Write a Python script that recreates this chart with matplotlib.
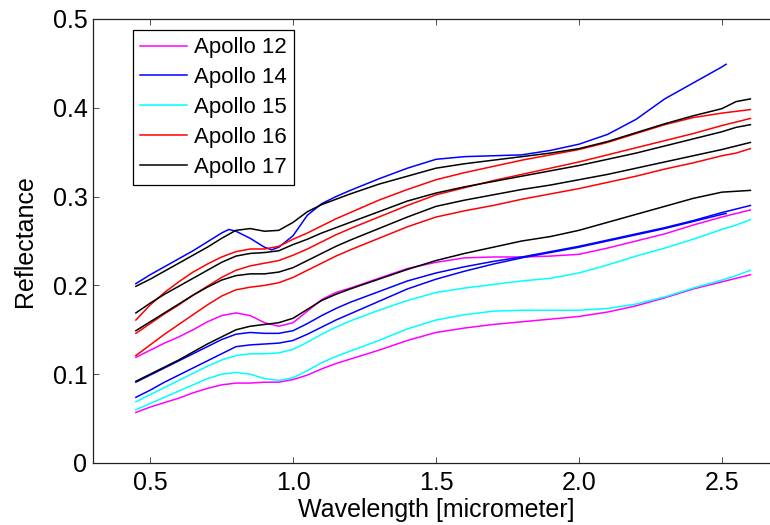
import matplotlib
matplotlib.use("Agg")
import matplotlib.pyplot as plt
from matplotlib.ticker import FixedLocator, FuncFormatter

plt.rcParams['font.family'] = ['Liberation Sans', 'DejaVu Sans']

# wavelength grid (micrometer)
WL = [0.45, 0.50, 0.55, 0.60, 0.65, 0.70, 0.75, 0.80, 0.85, 0.90, 0.95, 1.00,
      1.05, 1.10, 1.15, 1.20, 1.30, 1.40, 1.50, 1.60, 1.70, 1.80, 1.90, 2.00,
      2.10, 2.20, 2.30, 2.40, 2.50, 2.55, 2.60]
WL_SHORT = [0.45, 0.50, 0.55, 0.60, 0.65, 0.70, 0.75, 0.80, 0.85, 0.90, 0.95, 1.00,
            1.05, 1.10, 1.15, 1.20, 1.30, 1.40, 1.50, 1.60, 1.70, 1.80, 1.90, 2.00,
            2.10, 2.20, 2.30, 2.40, 2.50, 2.515]
WL_PEAK = [0.45, 0.50, 0.55, 0.60, 0.65, 0.70, 0.75, 0.775, 0.80, 0.85, 0.90, 0.925, 0.95, 1.00,
           1.05, 1.10, 1.15, 1.20, 1.30, 1.40, 1.50, 1.60, 1.70, 1.80, 1.90, 2.00,
           2.10, 2.20, 2.30, 2.40, 2.50, 2.515]

# Apollo 12 (magenta)
a12_1 = [0.119, 0.127, 0.135, 0.142, 0.150, 0.159, 0.166, 0.169, 0.166, 0.158, 0.154, 0.158,
         0.171, 0.184, 0.192, 0.197, 0.208, 0.219, 0.226, 0.231, 0.232, 0.232, 0.233, 0.235,
         0.242, 0.250, 0.258, 0.268, 0.277, 0.281, 0.285]
a12_2 = [0.057, 0.063, 0.068, 0.073, 0.079, 0.084, 0.088, 0.090, 0.090, 0.091, 0.091, 0.094,
         0.099, 0.106, 0.112, 0.117, 0.127, 0.138, 0.147, 0.152, 0.156, 0.159, 0.162, 0.165,
         0.170, 0.177, 0.186, 0.196, 0.204, 0.208, 0.212]

# Apollo 14 (blue)
a14_1 = [0.202, 0.212, 0.221, 0.230, 0.239, 0.249, 0.259, 0.263, 0.261, 0.253, 0.243, 0.240, 0.243, 0.256,
         0.279, 0.292, 0.300, 0.307, 0.320, 0.332, 0.342, 0.345, 0.346, 0.347, 0.352, 0.359,
         0.370, 0.387, 0.410, 0.428, 0.446, 0.449]
a14_2 = [0.091, 0.099, 0.107, 0.115, 0.123, 0.131, 0.139, 0.145, 0.147, 0.146, 0.146, 0.149,
         0.157, 0.166, 0.174, 0.181, 0.193, 0.205, 0.214, 0.221, 0.227, 0.232, 0.238, 0.244,
         0.251, 0.258, 0.265, 0.273, 0.282, 0.286, 0.290]
a14_3 = [0.074, 0.082, 0.091, 0.099, 0.107, 0.115, 0.123, 0.131, 0.133, 0.134, 0.135, 0.138,
         0.145, 0.153, 0.161, 0.168, 0.182, 0.196, 0.207, 0.216, 0.224, 0.231, 0.237, 0.243,
         0.250, 0.257, 0.264, 0.272, 0.280, 0.281]

# Apollo 15 (cyan)
a15_1 = [0.069, 0.077, 0.085, 0.093, 0.101, 0.109, 0.116, 0.121, 0.123, 0.123, 0.124, 0.128,
         0.136, 0.145, 0.153, 0.160, 0.172, 0.183, 0.192, 0.197, 0.201, 0.205, 0.208, 0.214,
         0.223, 0.233, 0.242, 0.252, 0.263, 0.268, 0.274]
a15_2 = [0.060, 0.067, 0.074, 0.081, 0.088, 0.095, 0.100, 0.102, 0.100, 0.095, 0.093, 0.096,
         0.104, 0.113, 0.120, 0.126, 0.138, 0.151, 0.161, 0.167, 0.171, 0.172, 0.172, 0.172,
         0.174, 0.179, 0.187, 0.197, 0.206, 0.211, 0.217]

# Apollo 16 (red)
a16_1 = [0.161, 0.178, 0.192, 0.204, 0.215, 0.224, 0.232, 0.238, 0.241, 0.241, 0.244, 0.252,
         0.259, 0.267, 0.275, 0.282, 0.296, 0.308, 0.319, 0.327, 0.334, 0.341, 0.347, 0.353,
         0.361, 0.371, 0.381, 0.389, 0.394, 0.396, 0.398]
a16_2 = [0.146, 0.157, 0.168, 0.178, 0.189, 0.199, 0.209, 0.217, 0.222, 0.225, 0.228, 0.234,
         0.241, 0.249, 0.257, 0.264, 0.277, 0.290, 0.302, 0.310, 0.318, 0.325, 0.332, 0.339,
         0.347, 0.355, 0.363, 0.371, 0.380, 0.384, 0.388]
a16_3 = [0.121, 0.133, 0.145, 0.156, 0.167, 0.178, 0.188, 0.195, 0.198, 0.200, 0.203, 0.209,
         0.217, 0.225, 0.233, 0.240, 0.253, 0.266, 0.277, 0.284, 0.290, 0.297, 0.303, 0.309,
         0.316, 0.323, 0.331, 0.338, 0.346, 0.349, 0.354]

# Apollo 17 (black)
a17_1 = [0.199, 0.207, 0.216, 0.225, 0.234, 0.243, 0.253, 0.262, 0.264, 0.261, 0.262, 0.271,
         0.283, 0.291, 0.297, 0.303, 0.314, 0.323, 0.332, 0.337, 0.341, 0.345, 0.349, 0.354,
         0.362, 0.372, 0.382, 0.391, 0.399, 0.407, 0.410]
a17_2 = [0.169, 0.180, 0.190, 0.199, 0.208, 0.217, 0.226, 0.233, 0.236, 0.237, 0.239, 0.246,
         0.252, 0.259, 0.265, 0.271, 0.283, 0.295, 0.304, 0.311, 0.317, 0.323, 0.329, 0.335,
         0.342, 0.349, 0.357, 0.365, 0.373, 0.378, 0.381]
a17_3 = [0.149, 0.159, 0.169, 0.179, 0.189, 0.198, 0.206, 0.211, 0.213, 0.213, 0.215, 0.220,
         0.228, 0.236, 0.244, 0.251, 0.264, 0.277, 0.289, 0.296, 0.302, 0.308, 0.313, 0.319,
         0.325, 0.332, 0.339, 0.346, 0.353, 0.357, 0.361]
a17_4 = [0.092, 0.100, 0.108, 0.116, 0.125, 0.134, 0.142, 0.150, 0.154, 0.156, 0.158, 0.163,
         0.173, 0.183, 0.190, 0.196, 0.207, 0.218, 0.228, 0.236, 0.243, 0.250, 0.255, 0.262,
         0.271, 0.280, 0.289, 0.298, 0.305, 0.306, 0.307]

series = [
    ("Apollo 12", "#ff00ff", [(WL, a12_1), (WL, a12_2)]),
    ("Apollo 14", "#0000ff", [(WL_PEAK, a14_1), (WL, a14_2), (WL_SHORT, a14_3)]),
    ("Apollo 15", "#00ffff", [(WL, a15_1), (WL, a15_2)]),
    ("Apollo 16", "#ff0000", [(WL, a16_1), (WL, a16_2), (WL, a16_3)]),
    ("Apollo 17", "#000000", [(WL, a17_1), (WL, a17_2), (WL, a17_3), (WL, a17_4)]),
]

W, H = 770, 525
fig = plt.figure(figsize=(W / 100, H / 100), dpi=100)
ax = fig.add_axes([93 / W, (H - 463) / H, 686 / W, 444 / H])

for name, color, curves in series:
    for i, (x, y) in enumerate(curves):
        ax.plot(x, y, color=color, lw=1.1, solid_joinstyle='round',
                label=name if i == 0 else "_nolegend_")

ax.set_xlim(0.3, 2.7)
ax.set_ylim(0, 0.5)
ax.xaxis.set_major_locator(FixedLocator([0.5, 1.0, 1.5, 2.0, 2.5]))
ax.yaxis.set_major_locator(FixedLocator([0, 0.1, 0.2, 0.3, 0.4, 0.5]))
ax.xaxis.set_major_formatter(FuncFormatter(lambda v, p: f"{v:.1f}"))
ax.yaxis.set_major_formatter(FuncFormatter(lambda v, p: "0" if abs(v) < 1e-9 else f"{v:.1f}"))

ax.tick_params(axis='both', direction='in', length=4.3, width=0.6, color='#333333',
               top=True, right=True, labelsize=18)
ax.tick_params(axis='x', pad=6)
ax.tick_params(axis='y', pad=4)
for s in ax.spines.values():
    s.set_linewidth(0.9)
    s.set_color('#222222')

ax.set_xlabel("Wavelength [micrometer]", fontsize=18, labelpad=2)
ax.set_ylabel("Reflectance", fontsize=18, labelpad=11)

leg = ax.legend(loc='upper left', bbox_to_anchor=(40 / 686, 1 - 11 / 444),
                borderaxespad=0, fontsize=16, handlelength=2.1, handletextpad=0.3,
                labelspacing=0.4, borderpad=0.33, fancybox=False, framealpha=1)
leg.get_frame().set_edgecolor('black')
leg.get_frame().set_linewidth(0.9)
for line in leg.get_lines():
    line.set_linewidth(1.1)

fig.savefig("out.png", dpi=100)
